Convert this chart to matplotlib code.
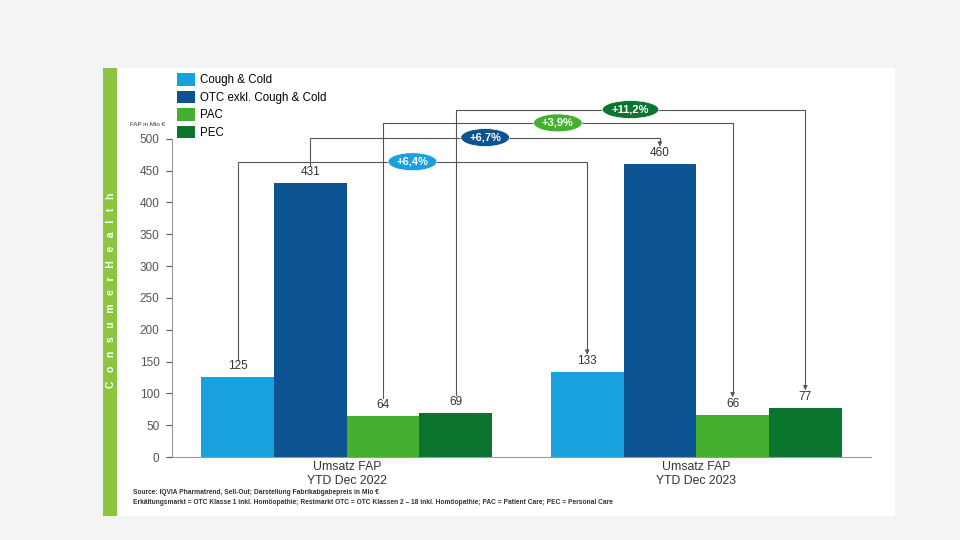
import numpy as np
import matplotlib.pyplot as plt
from matplotlib.patches import Rectangle

plt.rcParams['font.family'] = ['Liberation Sans', 'DejaVu Sans']

# data
periods = ['Umsatz FAP\nYTD Dec 2022', 'Umsatz FAP\nYTD Dec 2023']
segments = ['Cough & Cold', 'OTC exkl. Cough & Cold', 'PAC', 'PEC']
values_2022 = [125, 431, 64, 69]
values_2023 = [133, 460, 66, 77]
growth = ['+6,4%', '+6,7%', '+3,9%', '+11,2%']
yticks = list(range(0, 501, 50))

colors = ['#18a1dd', '#0b5391', '#45b02f', '#0b7530']

fig = plt.figure(figsize=(9.6, 5.4), dpi=100)
fig.patch.set_facecolor('#f4f4f4')

# white slide panel + green side bar
fig.add_artist(Rectangle((103 / 960, 1 - 516 / 540), 792 / 960, 448 / 540,
                         transform=fig.transFigure, facecolor='white', edgecolor='none', zorder=0))
fig.add_artist(Rectangle((103 / 960, 1 - 516 / 540), 14 / 960, 448 / 540,
                         transform=fig.transFigure, facecolor='#8cc63f', edgecolor='none', zorder=1))
fig.text(110.5 / 960, 1 - 290 / 540, '   '.join('ConsumerHealth'), rotation=90, color='white',
         fontsize=7.5, fontweight='bold', ha='center', va='center')

ax = fig.add_axes([172 / 960, 1 - 457 / 540, 699 / 960, 357 / 540])
ax.set_facecolor('none')

x = np.arange(len(periods))
w = 0.208
offsets = (np.arange(len(segments)) - 1.5) * w
for i, seg in enumerate(segments):
    vals = [values_2022[i], values_2023[i]]
    bars = ax.bar(x + offsets[i], vals, w, color=colors[i], label=seg, zorder=2)
    for b, v in zip(bars, vals):
        ax.text(b.get_x() + w / 2, v + 8, str(v), ha='center', va='bottom',
                fontsize=8.5, color='#333333')

ax.set_xlim(-0.5, 1.5)
ax.set_ylim(0, 561)
ax.set_yticks(yticks)
ax.tick_params(axis='y', labelsize=8.5, colors='#555555', length=4, pad=5)
ax.tick_params(axis='x', length=0, labelsize=8.8, pad=3)
ax.set_xticks(x)
ax.set_xticklabels(periods, color='#333333', linespacing=1.15)
for s in ['top', 'right']:
    ax.spines[s].set_visible(False)
ax.spines['left'].set_bounds(0, 500)
ax.spines['left'].set_color('#999999')
ax.spines['bottom'].set_color('#999999')

fig.text(148 / 960, 1 - 125 / 540, 'FAP in Mio €', fontsize=4.5, ha='center', va='center', color='#333333')

# growth connectors
levels = [464, 502, 525, 546]
off = 28
for i in range(len(segments)):
    x1, x2 = x[0] + offsets[i], x[1] + offsets[i]
    y1, y2 = values_2022[i] + off, values_2023[i] + off
    lv = levels[i]
    ax.plot([x1, x1, x2, x2], [y1, lv, lv, y2 + 6], color='#555555', lw=0.8, zorder=1)
    ax.annotate('', xy=(x2, y2), xytext=(x2, y2 + 8),
                arrowprops=dict(arrowstyle='-|>', color='#555555', lw=0.8, mutation_scale=6))
    ax.text((x1 + x2) / 2, lv, growth[i], ha='center', va='center', fontsize=8,
            fontweight='bold', color='white', zorder=4,
            bbox=dict(boxstyle='ellipse,pad=0.12', facecolor=colors[i], edgecolor='white', lw=0.5))

ax.legend(loc='upper left', bbox_to_anchor=(177 / 960, 1 - 73 / 540), bbox_transform=fig.transFigure,
          frameon=False, fontsize=8.3, handlelength=1.6, handleheight=1.3, handletextpad=0.4,
          labelspacing=0.38, borderaxespad=0, borderpad=0)

fig.text(133 / 960, 1 - 493 / 540,
         'Source: IQVIA Pharmatrend, Sell-Out; Darstellung Fabrikabgabepreis in Mio €',
         fontsize=4.75, fontweight='bold', color='#333333', va='center')
fig.text(133 / 960, 1 - 503 / 540,
         'Erkältungsmarkt = OTC Klasse 1 inkl. Homöopathie; Restmarkt OTC = OTC Klassen 2 – 18 inkl. '
         'Homöopathie; PAC = Patient Care; PEC = Personal Care',
         fontsize=4.75, fontweight='bold', color='#333333', va='center')

fig.savefig('out.png', dpi=100, facecolor=fig.get_facecolor())
